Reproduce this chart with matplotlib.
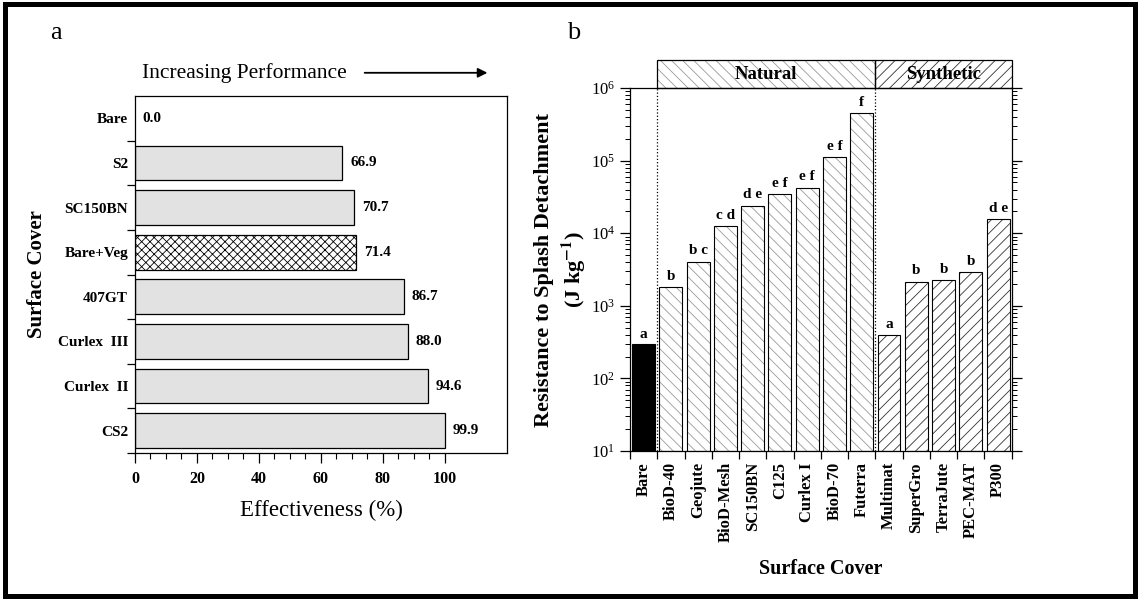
import matplotlib
matplotlib.use('Agg')
import matplotlib.pyplot as plt
import numpy as np
from matplotlib.patches import Rectangle
from matplotlib.ticker import LogLocator, LogFormatterMathtext, FixedLocator, NullFormatter

plt.rcParams['font.family'] = ['Liberation Serif', 'DejaVu Serif']
plt.rcParams['mathtext.fontset'] = 'stix'
plt.rcParams['hatch.linewidth'] = 0.6

# panel a data
covers_a = ['Bare', 'S2', 'SC150BN', 'Bare+Veg', '407GT', 'Curlex  III', 'Curlex  II', 'CS2']
effectiveness = [0.0, 66.9, 70.7, 71.4, 86.7, 88.0, 94.6, 99.9]

# panel b data
covers_b = ['Bare', 'BioD-40', 'Geojute', 'BioD-Mesh', 'SC150BN', 'C125', 'Curlex I',
            'BioD-70', 'Futerra', 'Multimat', 'SuperGro', 'TerraJute', 'PEC-MAT', 'P300']
resistance = [285, 1800, 4050, 12600, 23900, 34400, 42400, 111000, 448000,
              396, 2150, 2260, 2890, 15700]
letters = ['a', 'b', 'b c', 'c d', 'd e', 'e f', 'e f', 'e f', 'f',
           'a', 'b', 'b', 'b', 'd e']
groups = ['bare'] + ['natural'] * 8 + ['synthetic'] * 5

NAT_HATCH, NAT_COL = '\\\\\\', '#9a9a9a'
SYN_HATCH, SYN_COL = '///', '#333333'

fig = plt.figure(figsize=(11.4, 6), dpi=100)
fig.patches.append(Rectangle((0.004, 0.006), 0.992, 0.988, transform=fig.transFigure,
                             fill=False, edgecolor='black', linewidth=3.6))

# ---------------- panel a ----------------
ax = fig.add_axes([0.1184, 0.245, 0.3263, 0.595])
ya = np.arange(len(covers_a))
for i, (c, v) in enumerate(zip(covers_a, effectiveness)):
    if c == 'Bare':
        continue
    if c == 'Bare+Veg':
        ax.barh(i, v, height=0.78, color='white', edgecolor='black', hatch='xxxx', linewidth=0.9)
    else:
        ax.barh(i, v, height=0.78, color='#e2e2e2', edgecolor='black', linewidth=0.9)
    ax.text(v + 2.5, i, f'{v:.1f}', va='center', ha='left', fontsize=11, fontweight='bold')
ax.text(2.5, 0, '0.0', va='center', ha='left', fontsize=11, fontweight='bold')

ax.set_xlim(0, 120)
ax.set_ylim(7.5, -0.5)
ax.set_yticks(ya)
ax.set_yticklabels(covers_a)
for lab in ax.get_yticklabels():
    lab.set_fontsize(11)
    lab.set_fontweight('bold')
ax.tick_params(axis='y', length=0, pad=5)
ax.set_yticks(ya + 0.5, minor=True)
ax.tick_params(axis='y', which='minor', length=6, width=0.9)
ax.set_xticks([0, 20, 40, 60, 80, 100])
ax.set_xticklabels(['0', '20', '40', '60', '80', '100'])
for lab in ax.get_xticklabels():
    lab.set_fontsize(11.5)
    lab.set_fontweight('bold')
ax.xaxis.set_minor_locator(FixedLocator(np.arange(0, 101, 5)))
ax.tick_params(axis='x', which='major', length=7, width=0.9, pad=6)
ax.tick_params(axis='x', which='minor', length=4, width=0.8)
for s in ax.spines.values():
    s.set_linewidth(0.9)
ax.set_xlabel('Effectiveness (%)', fontsize=16.5, labelpad=9)
ax.set_ylabel('Surface Cover', fontsize=15, fontweight='bold', labelpad=8)
ax.text(0.02, 1.065, 'Increasing Performance', transform=ax.transAxes, fontsize=15.5,
        ha='left', va='center')
ax.annotate('', xy=(0.955, 1.065), xytext=(0.61, 1.065), xycoords='axes fraction',
            arrowprops=dict(arrowstyle='-|>', color='black', lw=1.3, mutation_scale=14))
fig.text(0.044, 0.945, 'a', fontsize=19, ha='left', va='center')

# ---------------- panel b ----------------
bx = fig.add_axes([0.5526, 0.2483, 0.3349, 0.605])
xb = np.arange(len(covers_b))
for i, (v, g) in enumerate(zip(resistance, groups)):
    if g == 'bare':
        bx.bar(i, v, width=0.84, bottom=10, color='black', edgecolor='black', linewidth=0.8)
    else:
        hatch = NAT_HATCH if g == 'natural' else SYN_HATCH
        hcol = NAT_COL if g == 'natural' else SYN_COL
        bx.bar(i, v - 10, width=0.84, bottom=10, color='white', edgecolor=hcol,
               hatch=hatch, linewidth=0)
        bx.bar(i, v - 10, width=0.84, bottom=10, fill=False, edgecolor='black', linewidth=0.8)
    bx.text(i, v * 1.15, letters[i], ha='center', va='bottom', fontsize=11, fontweight='bold')

bx.set_yscale('log')
bx.set_ylim(10, 1e6)
bx.set_xlim(-0.5, len(covers_b) - 0.5)
bx.yaxis.set_major_locator(LogLocator(base=10))
bx.yaxis.set_major_formatter(LogFormatterMathtext())
bx.yaxis.set_minor_locator(LogLocator(base=10, subs=np.arange(2, 10)))
bx.yaxis.set_minor_formatter(NullFormatter())
bx.tick_params(axis='y', which='major', length=7, width=0.9, labelsize=12, right=True)
bx.tick_params(axis='y', which='minor', length=3.5, width=0.7, right=True)
bx.set_xticks(xb)
bx.set_xticklabels(covers_b, rotation=90)
for lab in bx.get_xticklabels():
    lab.set_fontsize(12)
    lab.set_fontweight('bold')
bx.tick_params(axis='x', which='major', length=0, pad=8)
bx.set_xticks(np.arange(-0.5, len(covers_b)), minor=True)
bx.tick_params(axis='x', which='minor', length=6, width=0.9)
for s in bx.spines.values():
    s.set_linewidth(0.9)

for xv in [0.5, 8.5]:
    bx.axvline(xv, color='black', linestyle=':', linewidth=0.9)

tr = bx.get_xaxis_transform()
bx.add_patch(Rectangle((0.5, 1.0), 8.0, 0.077, transform=tr, clip_on=False,
                       facecolor='white', edgecolor=NAT_COL, hatch=NAT_HATCH, linewidth=0))
bx.add_patch(Rectangle((8.5, 1.0), 5.0, 0.077, transform=tr, clip_on=False,
                       facecolor='white', edgecolor=SYN_COL, hatch=SYN_HATCH, linewidth=0))
bx.add_patch(Rectangle((0.5, 1.0), 8.0, 0.077, transform=tr, clip_on=False,
                       fill=False, edgecolor='black', linewidth=0.9))
bx.add_patch(Rectangle((8.5, 1.0), 5.0, 0.077, transform=tr, clip_on=False,
                       fill=False, edgecolor='black', linewidth=0.9))
bx.text(4.5, 1.0385, 'Natural', transform=tr, ha='center', va='center', fontsize=13.5,
        fontweight='bold')
bx.text(11.0, 1.0385, 'Synthetic', transform=tr, ha='center', va='center', fontsize=13.5,
        fontweight='bold')

bx.set_xlabel('Surface Cover', fontsize=14.5, fontweight='bold', labelpad=12)
bx.set_ylabel('Resistance to Splash Detachment\n' + r'(J kg$^{\mathbf{-1}}$)',
              fontsize=16, fontweight='bold', labelpad=2, linespacing=1.3)
fig.text(0.497, 0.945, 'b', fontsize=19, ha='left', va='center')

fig.savefig('out.png', dpi=100)
